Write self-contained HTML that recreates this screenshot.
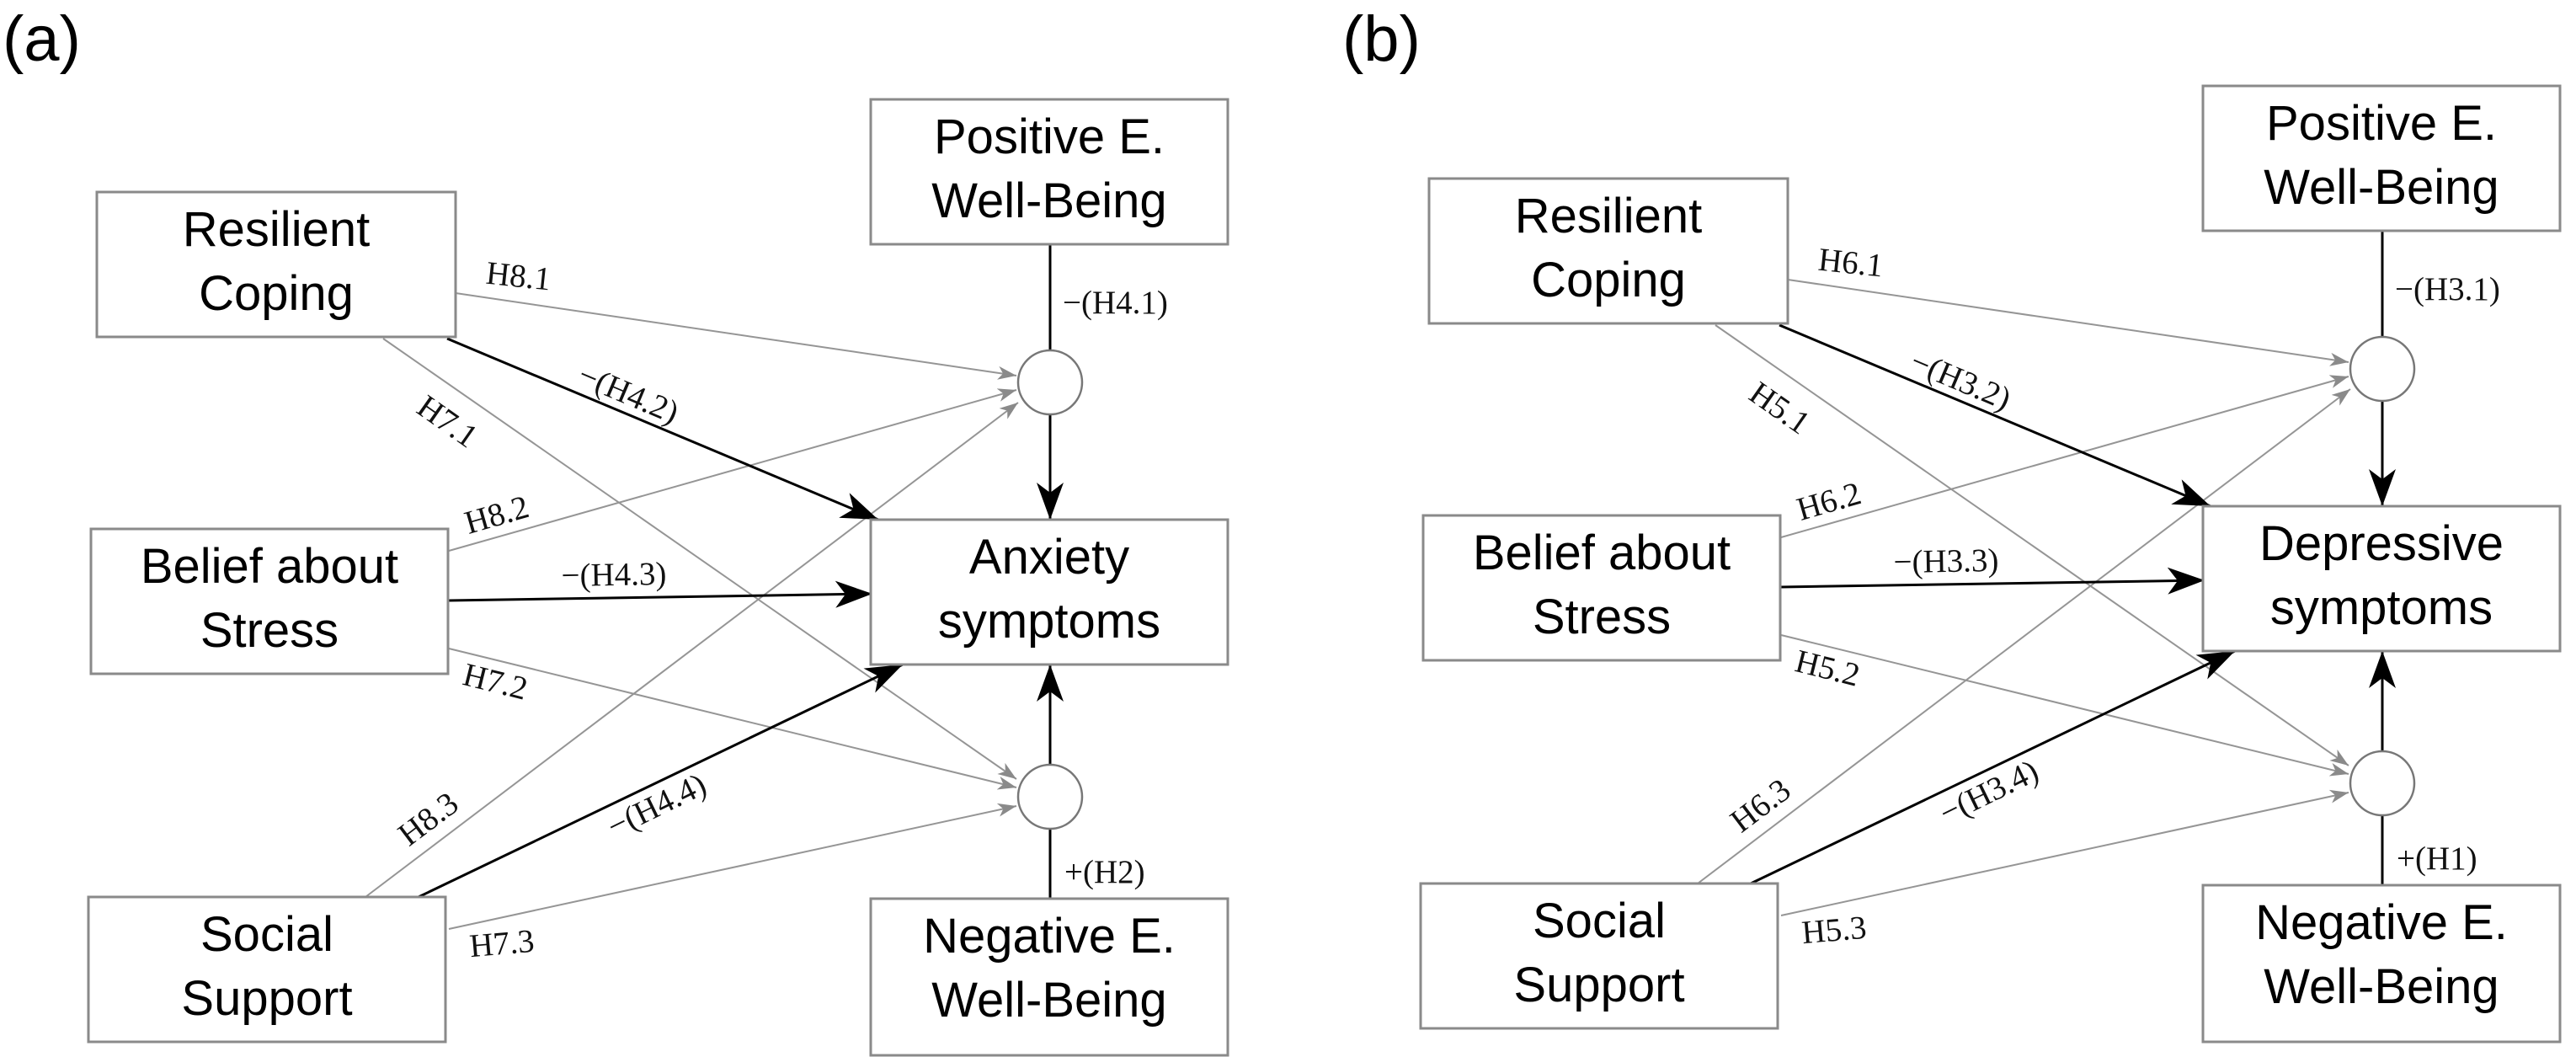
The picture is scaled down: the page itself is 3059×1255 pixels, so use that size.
<!DOCTYPE html>
<html><head><meta charset="utf-8"><style>
html,body{margin:0;padding:0;background:#fff;}
svg{display:block;}
.box{fill:#fff;stroke:#8a8a8a;stroke-width:3;}
.bt{font-family:"Liberation Sans",sans-serif;font-size:58px;fill:#000;text-anchor:middle;}
.lb{font-family:"Liberation Serif",serif;font-size:39px;fill:#111;}
.g{stroke:#959595;stroke-width:2;fill:none;}
.k{stroke:#000;stroke-width:3;fill:none;}
.pl{font-family:"Liberation Sans",sans-serif;font-size:76px;fill:#000;}
</style></head><body>
<svg width="3059" height="1255" viewBox="0 0 3059 1255" xmlns="http://www.w3.org/2000/svg">
<defs>
<marker id="ka" markerUnits="userSpaceOnUse" markerWidth="60" markerHeight="40" refX="44" refY="16" orient="auto">
<path d="M44,16 L0,0 L12,16 L0,32 Z" fill="#000"/>
</marker>
<marker id="ga" markerUnits="userSpaceOnUse" markerWidth="30" markerHeight="20" refX="22" refY="8" orient="auto">
<path d="M22,8 L0,0 L6,8 L0,16 Z" fill="#8a8a8a"/>
</marker>
</defs>
<text class="pl" x="3" y="72">(a)</text>
<text class="pl" x="1594" y="72">(b)</text>

<g id="pa">
<line class="g" x1="541" y1="348" x2="1207" y2="446" marker-end="url(#ga)"/>
<line class="g" x1="455" y1="402" x2="1207" y2="925" marker-end="url(#ga)"/>
<line class="g" x1="533" y1="654" x2="1207" y2="463" marker-end="url(#ga)"/>
<line class="g" x1="533" y1="770" x2="1207" y2="935" marker-end="url(#ga)"/>
<line class="g" x1="434" y1="1065" x2="1209" y2="478" marker-end="url(#ga)"/>
<line class="g" x1="533" y1="1103" x2="1207" y2="957" marker-end="url(#ga)"/>
<line class="k" x1="531" y1="402" x2="1043" y2="617" marker-end="url(#ka)"/>
<line class="k" x1="533" y1="713" x2="1036" y2="705" marker-end="url(#ka)"/>
<line class="k" x1="497" y1="1065" x2="1072" y2="789" marker-end="url(#ka)"/>
<line class="k" x1="1247" y1="290" x2="1247" y2="416"/>
<line class="k" x1="1247" y1="492" x2="1247" y2="617" marker-end="url(#ka)"/>
<line class="k" x1="1247" y1="908" x2="1247" y2="789" marker-end="url(#ka)"/>
<line class="k" x1="1247" y1="984" x2="1247" y2="1067"/>
<circle cx="1247" cy="454" r="38" fill="#fff" stroke="#777" stroke-width="2.5"/>
<circle cx="1247" cy="946" r="38" fill="#fff" stroke="#777" stroke-width="2.5"/>
<rect class="box" x="115" y="228" width="426" height="172"/>
<rect class="box" x="108" y="628" width="424" height="172"/>
<rect class="box" x="105" y="1065" width="424" height="172"/>
<rect class="box" x="1034" y="118" width="424" height="172"/>
<rect class="box" x="1034" y="617" width="424" height="172"/>
<rect class="box" x="1034" y="1067" width="424" height="186"/>
<text class="bt" x="328" y="292">Resilient</text><text class="bt" x="328" y="368">Coping</text>
<text class="bt" x="320" y="692">Belief about</text><text class="bt" x="320" y="768">Stress</text>
<text class="bt" x="317" y="1129">Social</text><text class="bt" x="317" y="1205">Support</text>
<text class="bt" x="1246" y="182">Positive E.</text><text class="bt" x="1246" y="258">Well-Being</text>
<text class="bt" x="1246" y="1131">Negative E.</text><text class="bt" x="1246" y="1207">Well-Being</text>
</g>

<g transform="translate(1582,-16)">
<use href="#pa"/>
</g>

<text class="bt" x="1246" y="681">Anxiety</text><text class="bt" x="1246" y="757">symptoms</text>
<text class="lb" x="577" y="340" transform="rotate(6 610 330)">H8.1</text>
<text class="lb" x="1262" y="372">−(H4.1)</text>
<text class="lb" text-anchor="middle" transform="translate(746,468) rotate(23)" y="12">−(H4.2)</text>
<text class="lb" text-anchor="middle" transform="translate(531,501) rotate(35)" y="12">H7.1</text>
<text class="lb" text-anchor="middle" transform="translate(590,612) rotate(-16)" y="12">H8.2</text>
<text class="lb" text-anchor="middle" transform="translate(729,683) rotate(-1)" y="12">−(H4.3)</text>
<text class="lb" text-anchor="middle" transform="translate(588,810) rotate(14)" y="12">H7.2</text>
<text class="lb" text-anchor="middle" transform="translate(509,973) rotate(-37)" y="12">H8.3</text>
<text class="lb" text-anchor="middle" transform="translate(780,957) rotate(-26)" y="12">−(H4.4)</text>
<text class="lb" text-anchor="middle" transform="translate(596,1121) rotate(-5)" y="12">H7.3</text>
<text class="lb" x="1264" y="1048">+(H2)</text>

<g transform="translate(1582,-16)">
<text class="bt" x="1246" y="681">Depressive</text><text class="bt" x="1246" y="757">symptoms</text>
<text class="lb" x="577" y="340" transform="rotate(6 610 330)">H6.1</text>
<text class="lb" x="1262" y="372">−(H3.1)</text>
<text class="lb" text-anchor="middle" transform="translate(746,468) rotate(23)" y="12">−(H3.2)</text>
<text class="lb" text-anchor="middle" transform="translate(531,501) rotate(35)" y="12">H5.1</text>
<text class="lb" text-anchor="middle" transform="translate(590,612) rotate(-16)" y="12">H6.2</text>
<text class="lb" text-anchor="middle" transform="translate(729,683) rotate(-1)" y="12">−(H3.3)</text>
<text class="lb" text-anchor="middle" transform="translate(588,810) rotate(14)" y="12">H5.2</text>
<text class="lb" text-anchor="middle" transform="translate(509,973) rotate(-37)" y="12">H6.3</text>
<text class="lb" text-anchor="middle" transform="translate(780,957) rotate(-26)" y="12">−(H3.4)</text>
<text class="lb" text-anchor="middle" transform="translate(596,1121) rotate(-5)" y="12">H5.3</text>
<text class="lb" x="1264" y="1048">+(H1)</text>
</g>
</svg>
</body></html>
